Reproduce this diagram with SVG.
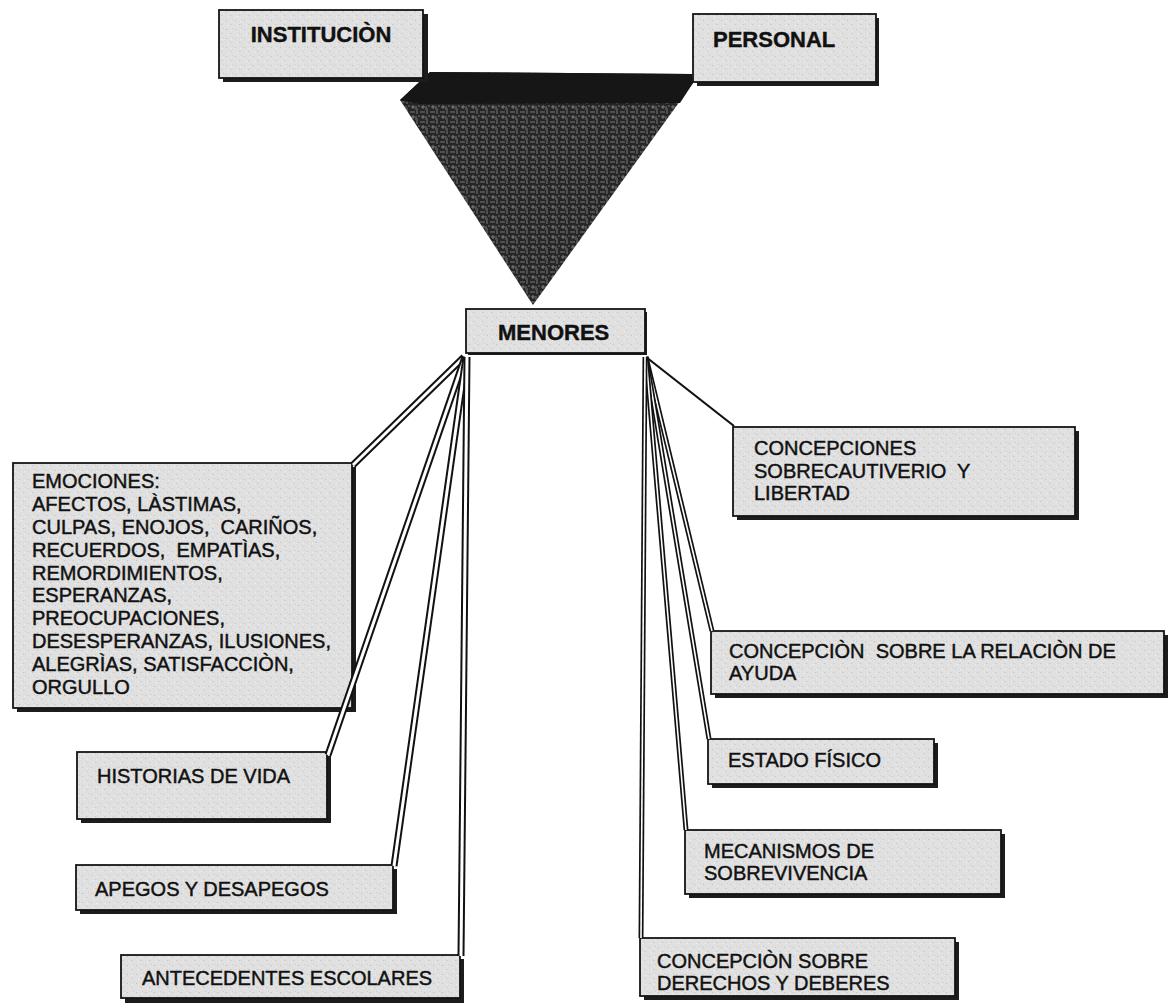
<svg xmlns="http://www.w3.org/2000/svg" xmlns:xlink="http://www.w3.org/1999/xlink" width="1169" height="1008" viewBox="0 0 1169 1008">
<defs>
<style>
.box{fill:url(#speck);stroke:#151515;stroke-width:1.8}
.shadow{fill:#1c1c1c}
.t{font-family:"Liberation Sans",Arial,sans-serif;font-size:20px;fill:#111;stroke:#111;stroke-width:0.45;white-space:pre}
.tb{font-family:"Liberation Sans",Arial,sans-serif;font-size:22px;font-weight:bold;fill:#111;stroke:#111;stroke-width:0.4}
.outerL{fill:none;stroke:#111;stroke-width:7;stroke-linecap:butt}
.innerL{fill:none;stroke:#fff;stroke-width:3;stroke-linecap:butt}
.outerR{fill:none;stroke:#111;stroke-width:5;stroke-linecap:butt}
.innerR{fill:none;stroke:#fff;stroke-width:1.6;stroke-linecap:butt}
.single{fill:none;stroke:#111;stroke-width:2.2}
</style>
<pattern id="speck" width="9" height="9" patternUnits="userSpaceOnUse">
<rect width="9" height="9" fill="#e0e0e0"/>
<rect x="1" y="2" width="1" height="1" fill="#c0c0c0"/>
<rect x="5" y="6" width="1.5" height="1" fill="#cacaca"/>
<rect x="7" y="1" width="1" height="1" fill="#cecece"/>
<rect x="3" y="7" width="1" height="1" fill="#f2f2f2"/>
<rect x="6" y="3" width="1" height="1" fill="#f0f0f0"/>
</pattern>
<pattern id="weave" width="10" height="10" patternUnits="userSpaceOnUse">
<rect width="10" height="10" fill="#262626"/>
<path d="M0 2h5M3 5v4M7 0v4M1 7h6M8 6h2M5 9h3" stroke="#a0a0a0" stroke-width="0.9" stroke-opacity="0.75" fill="none"/>
</pattern>
<path id="cL1" d="M464 357L353 465"/>
<path id="cL2" d="M465 357L328 755"/>
<path id="cL3" d="M466 357L394 866"/>
<path id="cL4" d="M467 357L461 956"/>
<path id="cR2" d="M646 357L712 631"/>
<path id="cR3" d="M646 357L709 739"/>
<path id="cR4" d="M646 357L686 830"/>
<path id="cR5" d="M645 357L641 938"/>
</defs>
<rect width="1169" height="1008" fill="#fff"/>

<g id="triangle">
<polygon points="400,100 430,72 692,74 693,83 533,305" fill="url(#weave)"/>
<polygon points="400,100 430,72 692,74 693,83 680,103 418,104" fill="#161616"/>
</g>

<g id="node-institucion">
<rect class="shadow" x="223" y="14" width="205" height="68"/>
<rect class="box" x="219" y="10" width="204" height="68"/>
<text class="tb" x="321" y="42" text-anchor="middle">INSTITUCIÒN</text>
</g>

<g id="node-personal">
<rect class="shadow" x="697" y="18" width="182" height="68"/>
<rect class="box" x="693" y="14" width="183" height="68"/>
<text class="tb" x="713" y="47">PERSONAL</text>
</g>

<g id="node-menores">
<rect class="shadow" x="468" y="312" width="179" height="43"/>
<rect class="box" x="466" y="309" width="179" height="44"/>
<text class="tb" x="498" y="340">MENORES</text>
</g>

<g id="node-emociones">
<rect class="shadow" x="17" y="467" width="339" height="245"/>
<rect class="box" x="13" y="463" width="339" height="245"/>
<text class="t" x="32" y="488">EMOCIONES:</text>
<text class="t" x="32" y="511">AFECTOS, LÀSTIMAS,</text>
<text class="t" x="32" y="534">CULPAS, ENOJOS,  CARIÑOS,</text>
<text class="t" x="32" y="557">RECUERDOS,  EMPATÌAS,</text>
<text class="t" x="32" y="580">REMORDIMIENTOS,</text>
<text class="t" x="32" y="602">ESPERANZAS,</text>
<text class="t" x="32" y="625">PREOCUPACIONES,</text>
<text class="t" x="32" y="648">DESESPERANZAS, ILUSIONES,</text>
<text class="t" x="32" y="671">ALEGRÌAS, SATISFACCIÒN,</text>
<text class="t" x="32" y="694">ORGULLO</text>
</g>

<g id="node-historias">
<rect class="shadow" x="81" y="756" width="250" height="67"/>
<rect class="box" x="77" y="752" width="250" height="67"/>
<text class="t" x="97" y="783">HISTORIAS DE VIDA</text>
</g>

<g id="node-apegos">
<rect class="shadow" x="80" y="869" width="317" height="45"/>
<rect class="box" x="76" y="865" width="317" height="45"/>
<text class="t" x="95" y="896">APEGOS Y DESAPEGOS</text>
</g>

<g id="node-antecedentes">
<rect class="shadow" x="125" y="959" width="339" height="44"/>
<rect class="box" x="121" y="955" width="339" height="43"/>
<text class="t" x="142" y="985">ANTECEDENTES ESCOLARES</text>
</g>

<g id="node-cautiverio">
<rect class="shadow" x="737" y="431" width="342" height="89"/>
<rect class="box" x="733" y="427" width="342" height="89"/>
<text class="t" x="754" y="455">CONCEPCIONES</text>
<text class="t" x="754" y="478">SOBRECAUTIVERIO  Y</text>
<text class="t" x="754" y="500">LIBERTAD</text>
</g>

<g id="node-relacion">
<rect class="shadow" x="715" y="635" width="453" height="63"/>
<rect class="box" x="711" y="631" width="453" height="63"/>
<text class="t" x="729" y="658">CONCEPCIÒN  SOBRE LA RELACIÒN DE</text>
<text class="t" x="729" y="680">AYUDA</text>
</g>

<g id="node-estado">
<rect class="shadow" x="712" y="743" width="226" height="45"/>
<rect class="box" x="708" y="739" width="226" height="45"/>
<text class="t" x="728" y="767">ESTADO FÍSICO</text>
</g>

<g id="node-mecanismos">
<rect class="shadow" x="689" y="834" width="316" height="64"/>
<rect class="box" x="685" y="830" width="316" height="64"/>
<text class="t" x="704" y="858">MECANISMOS DE</text>
<text class="t" x="704" y="880">SOBREVIVENCIA</text>
</g>

<g id="node-derechos">
<rect class="shadow" x="644" y="942" width="315" height="58"/>
<rect class="box" x="640" y="938" width="315" height="58"/>
<text class="t" x="657" y="968">CONCEPCIÒN SOBRE</text>
<text class="t" x="657" y="990">DERECHOS Y DEBERES</text>
</g>

<g id="connectors">
<use xlink:href="#cL1" class="outerL"/><use xlink:href="#cL1" class="innerL"/>
<use xlink:href="#cL2" class="outerL"/><use xlink:href="#cL2" class="innerL"/>
<use xlink:href="#cL3" class="outerL"/><use xlink:href="#cL3" class="innerL"/>
<use xlink:href="#cL4" class="outerL"/><use xlink:href="#cL4" class="innerL"/>
<path class="single" d="M646 357L734 426"/>
<use xlink:href="#cR2" class="outerR"/><use xlink:href="#cR2" class="innerR"/>
<use xlink:href="#cR3" class="outerR"/><use xlink:href="#cR3" class="innerR"/>
<use xlink:href="#cR4" class="outerR"/><use xlink:href="#cR4" class="innerR"/>
<use xlink:href="#cR5" class="outerR"/><use xlink:href="#cR5" class="innerR"/>
</g>
</svg>
